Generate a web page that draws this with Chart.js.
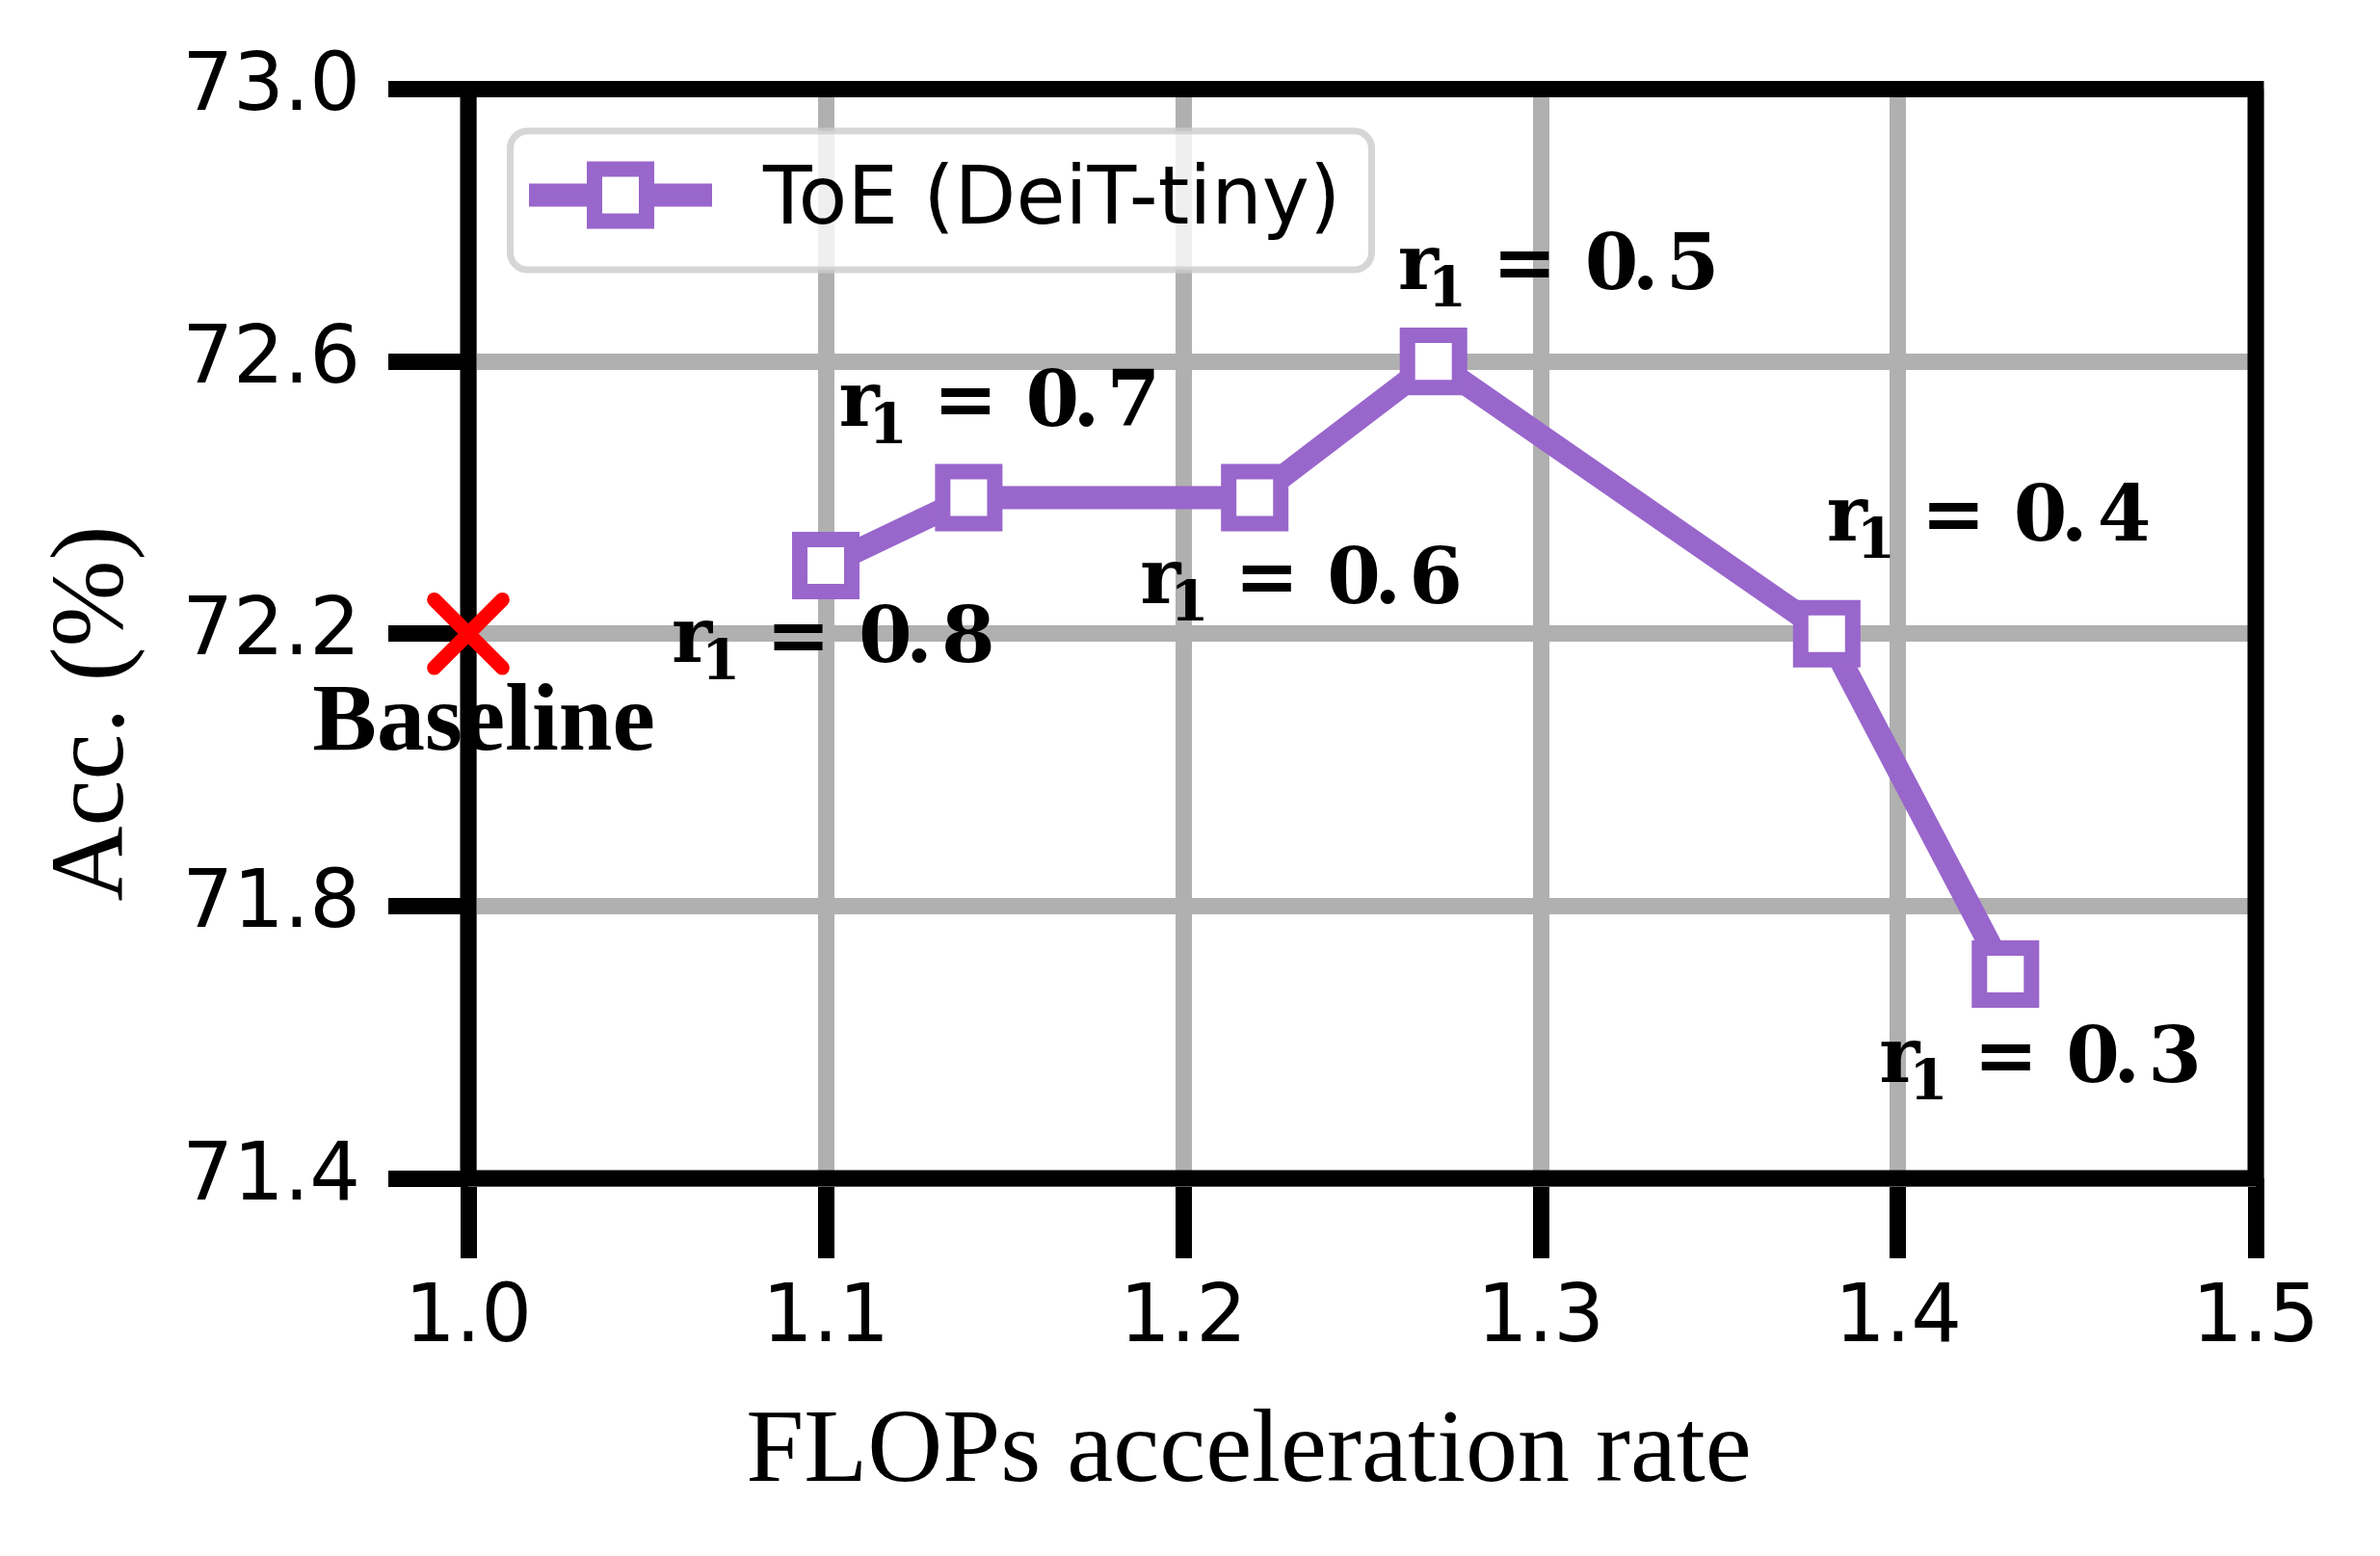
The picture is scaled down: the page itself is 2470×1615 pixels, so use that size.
<!DOCTYPE html>
<html>
<head>
<meta charset="utf-8">
<script src="https://cdn.jsdelivr.net/npm/chart.js@4.4.1/dist/chart.umd.min.js"></script>
<style>
    html, body { margin: 0; padding: 0; background: #fff; }
    canvas { display: block; }
</style>
</head>
<body>
<canvas id="toeChart" width="2470" height="1615"></canvas>
<script>
// Data
const flopsRate = [1.10, 1.14, 1.22, 1.27, 1.38, 1.43];   // FLOPs acceleration rate
const accuracy = [72.3, 72.4, 72.4, 72.6, 72.2, 71.7];     // Acc. (%)
const ratioLabels = ['0.8', '0.7', '0.6', '0.5', '0.4', '0.3']; // r1 for each point
const baselineRate = [1.0];
const baselineAcc = [72.2];
const xTicks = [1.0, 1.1, 1.2, 1.3, 1.4, 1.5];
const yTicks = [71.4, 71.8, 72.2, 72.6, 73.0];

const PURPLE = '#9966cc';

// Frame (all four spines), drawn over the grid but under the data
const framePlugin = {
    id: 'frame',
    beforeDatasetsDraw(chart) {
        const { ctx, chartArea: a } = chart;
        ctx.save();
        ctx.strokeStyle = '#000';
        ctx.lineWidth = 17;
        ctx.lineJoin = 'miter';
        ctx.strokeRect(a.left, a.top, a.right - a.left, a.bottom - a.top);
        ctx.restore();
    },
    // round caps for the baseline cross
    beforeDatasetDraw(chart, args) {
        if (args.index === 1) {
            chart.ctx.save();
            chart.ctx.lineCap = 'round';
        }
    },
    afterDatasetDraw(chart, args) {
        if (args.index === 1) chart.ctx.restore();
    }
};

// r1 annotations, Baseline label, axis titles and legend
const textPlugin = {
    id: 'texts',
    afterDatasetsDraw(chart) {
        const { ctx, chartArea: a } = chart;
        const xs = chart.scales.x, ys = chart.scales.y;

        // offset of the "r" (ink left, baseline) from each point
        const offsets = [[-158, 100], [-133, -74], [-117, 110], [-35, -75], [2, -97], [-129, 112]];

        const mainFont = 'bold 80px "DejaVu Serif"';
        const subFont = 'bold 58px "DejaVu Serif"';

        function inkText(str, left, base, font) {
            ctx.font = font;
            const m = ctx.measureText(str);
            ctx.fillText(str, left + m.actualBoundingBoxLeft, base);
        }

        ctx.save();
        ctx.fillStyle = '#000';
        ctx.textAlign = 'left';
        ctx.textBaseline = 'alphabetic';
        ratioLabels.forEach((lab, i) => {
            const px = xs.getPixelForValue(flopsRate[i]) + offsets[i][0];
            const py = ys.getPixelForValue(accuracy[i]) + offsets[i][1];
            const parts = lab.split('.');
            inkText('r', px, py, mainFont);
            inkText('1', px + 36, py + 18, subFont);
            inkText('=', px + 104, py, mainFont);
            inkText(parts[0], px + 195, py, mainFont);
            inkText('.', px + 247, py, mainFont);
            inkText(parts[1], px + 282, py, mainFont);
        });

        // Baseline label under the red cross
        ctx.font = 'bold 100px "Liberation Serif"';
        ctx.textAlign = 'center';
        ctx.fillText('Baseline', xs.getPixelForValue(baselineRate[0]) + 16,
                     ys.getPixelForValue(baselineAcc[0]) + 120);

        // axis titles
        ctx.font = '108px "Liberation Serif"';
        ctx.fillText('FLOPs acceleration rate', a.left + 810, a.bottom + 314);
        ctx.save();
        ctx.translate(a.left - 359, a.top + 648);
        ctx.rotate(-Math.PI / 2);
        ctx.fillText('Acc. (%)', 0, 0);
        ctx.restore();
        ctx.restore();
    },
    afterDraw(chart) {
        const { ctx, chartArea: a } = chart;
        const lx = a.left + 40, ly = a.top + 40, lw = 901, lh = 151;
        ctx.save();
        ctx.beginPath();
        ctx.roundRect(lx + 3.5, ly + 3.5, lw - 7, lh - 7, 18);
        ctx.fillStyle = 'rgba(255,255,255,0.8)';
        ctx.fill();
        ctx.lineWidth = 7;
        ctx.strokeStyle = 'rgba(204,204,204,0.8)';
        ctx.stroke();

        const cy = ly + 70;
        ctx.strokeStyle = PURPLE;
        ctx.lineWidth = 24;
        ctx.lineCap = 'butt';
        ctx.beginPath();
        ctx.moveTo(lx + 23, cy);
        ctx.lineTo(lx + 213, cy);
        ctx.stroke();
        ctx.lineWidth = 16;
        ctx.fillStyle = '#fff';
        ctx.fillRect(lx + 118 - 27, cy - 27, 54, 54);
        ctx.strokeRect(lx + 118 - 27, cy - 27, 54, 54);

        ctx.fillStyle = '#000';
        ctx.font = '83px "DejaVu Sans"';
        ctx.textAlign = 'left';
        ctx.textBaseline = 'alphabetic';
        ctx.fillText(chart.data.datasets[0].label, lx + 266, cy + 29);
        ctx.restore();
    }
};

const config = {
    type: 'line',
    data: {
        datasets: [
            {
                label: 'ToE (DeiT-tiny)',
                data: flopsRate.map((x, i) => ({ x: x, y: accuracy[i] })),
                borderColor: PURPLE,
                borderWidth: 24,
                borderJoinStyle: 'round',
                tension: 0,
                pointStyle: 'rect',
                pointRadius: 38.2,
                pointBorderWidth: 16,
                pointBorderColor: PURPLE,
                pointBackgroundColor: '#fff',
                clip: false
            },
            {
                label: 'Baseline',
                data: baselineRate.map((x, i) => ({ x: x, y: baselineAcc[i] })),
                showLine: false,
                pointStyle: 'crossRot',
                pointRadius: 50,
                pointBorderWidth: 15,
                pointBorderColor: '#ff0000',
                pointBackgroundColor: '#ff0000',
                clip: false
            }
        ]
    },
    options: {
        responsive: false,
        devicePixelRatio: 1,
        animation: false,
        events: [],
        layout: { padding: { left: 0, right: 129, top: 92.5, bottom: 0 } },
        plugins: {
            legend: { display: false },
            tooltip: { enabled: false }
        },
        scales: {
            x: {
                type: 'linear',
                min: 1.0,
                max: 1.5,
                afterBuildTicks: s => { s.ticks = xTicks.map(v => ({ value: v })); },
                afterFit: s => { s.height = 392; },
                grid: {
                    color: '#b0b0b0',
                    lineWidth: 17,
                    drawTicks: true,
                    tickLength: 83,
                    tickWidth: 17,
                    tickColor: '#000'
                },
                border: { display: false },
                ticks: {
                    padding: 15,
                    color: '#000',
                    font: { family: 'DejaVu Sans', size: 83 },
                    callback: v => v.toFixed(1),
                    maxRotation: 0
                }
            },
            y: {
                type: 'linear',
                min: 71.4,
                max: 73.0,
                afterBuildTicks: s => { s.ticks = yTicks.map(v => ({ value: v })); },
                afterFit: s => { s.width = 486; },
                grid: {
                    color: '#b0b0b0',
                    lineWidth: 17,
                    drawTicks: true,
                    tickLength: 83,
                    tickWidth: 17,
                    tickColor: '#000'
                },
                border: { display: false },
                ticks: {
                    padding: 29,
                    color: '#000',
                    font: { family: 'DejaVu Sans', size: 83 },
                    callback: v => v.toFixed(1)
                }
            }
        }
    },
    plugins: [framePlugin, textPlugin]
};

const ctx = document.getElementById('toeChart').getContext('2d');
const toeChart = new Chart(ctx, config);
</script>
</body>
</html>
